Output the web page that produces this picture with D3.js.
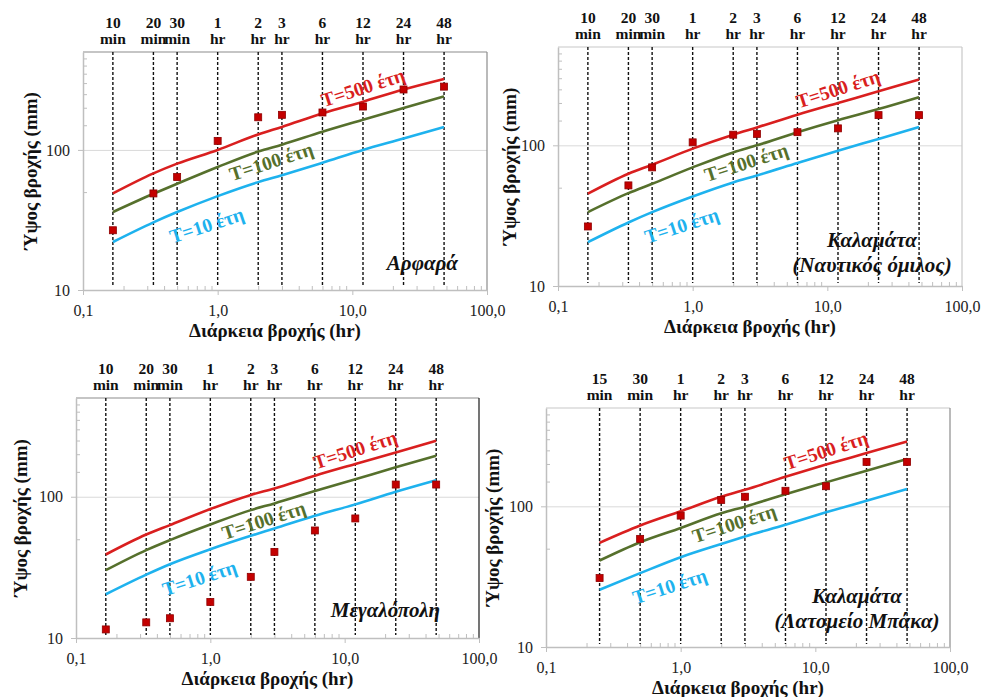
<!DOCTYPE html>
<html>
<head>
<meta charset="utf-8">
<script src="https://cdn.jsdelivr.net/npm/d3@7"></script>
<style>
  body { margin: 0; background: #fff; }
  svg { display: block; font-family: "Liberation Serif", "Times New Roman", serif; }
</style>
</head>
<body>
<div id="chart"></div>
<script>
"use strict";

// durations (hr) and their labels above the plots
let durations = [1 / 6, 1 / 3, 0.5, 1, 2, 3, 6, 12, 24, 48];
let durationLabels = [["10", "min"], ["20", "min"], ["30", "min"], ["1", "hr"], ["2", "hr"],
  ["3", "hr"], ["6", "hr"], ["12", "hr"], ["24", "hr"], ["48", "hr"]];
let durationsBaka = [0.25, 0.5, 1, 2, 3, 6, 12, 24, 48];
let durationLabelsBaka = [["15", "min"], ["30", "min"], ["1", "hr"], ["2", "hr"], ["3", "hr"],
  ["6", "hr"], ["12", "hr"], ["24", "hr"], ["48", "hr"]];

let curveNames = ["T=10 έτη", "T=100 έτη", "T=500 έτη"];

// Αρφαρά
let arfaraT10 = [22, 30.4, 36, 46.8, 58.9, 66, 81, 100, 120.6, 146];
let arfaraT100 = [36, 48.6, 57.3, 75.5, 97.3, 109, 134.7, 164, 199, 241];
let arfaraT500 = [48.9, 68, 79.8, 100, 129, 146, 182, 221, 270, 321];
let arfaraObs = [26.7, 48.9, 64, 116, 171, 178, 185, 204, 270, 283];

// Καλαμάτα (Ναυτικός όμιλος)
let nautT10 = [20.5, 28.3, 33.5, 43.3, 54.5, 61, 74.8, 91.6, 111, 135];
let nautT100 = [33.5, 45.7, 53.3, 69.7, 89, 100, 124, 151, 181, 220];
let nautT500 = [45.3, 62.8, 72.8, 94.7, 119, 134, 165, 200, 242, 294];
let nautObs = [26.5, 51.9, 69.7, 105, 119, 120.5, 124, 132, 164, 164];

// Μεγαλόπολη
let megT10 = [20.4, 28.1, 33.3, 42.5, 52.9, 59.6, 73.3, 88.3, 108.5, 131];
let megT100 = [30.2, 41.9, 49.3, 63.6, 80.4, 89.7, 109.7, 133, 161.5, 195];
let megT500 = [39, 54, 63, 81.8, 103, 114.6, 141, 170.6, 206, 249];
let megObs = [11.5, 12.9, 13.8, 18, 27.1, 40.7, 57.7, 70.2, 122, 122];

// Καλαμάτα (Λατομείο Μπάκα)
let bakaT10 = [25.5, 33.5, 43.5, 54, 61, 74, 90.6, 109.7, 132.7];
let bakaT100 = [41.2, 55.6, 70.2, 89.2, 99.5, 122, 148, 179, 217];
let bakaT500 = [55, 73, 92.2, 117, 131, 162, 198, 239, 289];
let bakaObs = [30.9, 58.7, 85.9, 111, 117, 129, 139, 207, 207];

let xMajor = [0.1, 1, 10, 100];
let xMinor = [];
[0.1, 1, 10].forEach(b => d3.range(2, 10).forEach(k => xMinor.push(b * k)));
let yMajor = [10, 100];
let yMinor = [50, 150, 200, 250, 300, 350, 400, 450];

let colors = ["#1eb2ee", "#56702c", "#d91f1f"];

let panels = [
  { name: ["Αρφαρά"], nameAnchor: "end", nameDx: -29, nameDy: [-20],
    x: [83, 487], y: [290, 52], titleDx: -53, top: "#8c8c8c", right: "#8c8c8c",
    durs: durations, labels: durationLabels, series: [arfaraT10, arfaraT100, arfaraT500], obs: arfaraObs },
  { name: ["Καλαμάτα", "(Ναυτικός όμιλος)"], nameAnchor: "middle", nameDx: -90, nameDy: [-39, -14],
    x: [558, 962], y: [286, 47], titleDx: -49, top: "#c8c8c8", right: "#c8c8c8",
    durs: durations, labels: durationLabels, series: [nautT10, nautT100, nautT500], obs: nautObs },
  { name: ["Μεγαλόπολη"], nameAnchor: "end", nameDx: -39, nameDy: [-21],
    x: [76, 479], y: [638, 398], titleDx: -56, top: "#8c8c8c", right: "#1a1a1a",
    durs: durations, labels: durationLabels, series: [megT10, megT100, megT500], obs: megObs },
  { name: ["Καλαμάτα", "(Λατομείο Μπάκα)"], nameAnchor: "middle", nameDx: -93, nameDy: [-44, -19],
    x: [546, 950], y: [647, 408], titleDx: -54, top: "#c8c8c8", right: "#8c8c8c",
    durs: durationsBaka, labels: durationLabelsBaka, series: [bakaT10, bakaT100, bakaT500], obs: bakaObs }
];

// where the curve labels sit: duration along the curve and vertical offset (px)
let labelAt = [{ t: 0.83, dy: 25 }, { t: 2.5, dy: 14 }, { t: 12, dy: -14 }];

let grLocale = d3.formatLocale({ decimal: ",", thousands: ".", grouping: [3], currency: ["", "€"] });
let fmtX = grLocale.format(".1f");

let svg = d3.select("#chart").append("svg")
  .attr("width", 981)
  .attr("height", 697);

panels.forEach(drawPanel);

function drawPanel(p) {
  let x = d3.scaleLog().domain([0.1, 100]).range(p.x);
  let y = d3.scaleLog().domain([10, 500]).range(p.y);
  let y10 = p.y[0], yTop = p.y[1];
  let g = svg.append("g");

  // gridline at 100
  g.append("g")
    .attr("transform", "translate(" + p.x[0] + ",0)")
    .call(d3.axisLeft(y).tickValues([100]).tickSize(-(p.x[1] - p.x[0])).tickFormat(""))
    .call(s => s.select(".domain").remove())
    .call(s => s.selectAll("line").attr("stroke", "#d9d9d9"));

  // frame top / right
  g.append("line").attr("x1", p.x[0]).attr("x2", p.x[1]).attr("y1", yTop).attr("y2", yTop)
    .attr("stroke", p.top).attr("stroke-width", 1.2);
  g.append("line").attr("x1", p.x[1]).attr("x2", p.x[1]).attr("y1", yTop).attr("y2", y10)
    .attr("stroke", p.right).attr("stroke-width", 1.2);

  // x axis
  g.append("g")
    .attr("transform", "translate(0," + y10 + ")")
    .call(d3.axisBottom(x).tickValues(xMinor).tickSize(-4).tickSizeOuter(0).tickFormat(""))
    .call(s => s.select(".domain").remove())
    .call(s => s.selectAll("line").attr("stroke", "#bfbfbf"));
  let xa = g.append("g")
    .attr("transform", "translate(0," + y10 + ")")
    .call(d3.axisBottom(x).tickValues(xMajor).tickSize(5).tickSizeOuter(0).tickPadding(10).tickFormat(fmtX));
  xa.select(".domain").attr("stroke", "#bfbfbf").attr("stroke-width", 1.5);
  xa.selectAll("line").attr("stroke", "#bfbfbf");
  xa.selectAll("text").attr("font-family", "Liberation Serif").attr("font-size", 16).attr("fill", "#222");

  // y axis
  g.append("g")
    .attr("transform", "translate(" + p.x[0] + ",0)")
    .call(d3.axisLeft(y).tickValues(yMinor).tickSize(-4).tickSizeOuter(0).tickFormat(""))
    .call(s => s.select(".domain").remove())
    .call(s => s.selectAll("line").attr("stroke", "#bfbfbf"));
  let ya = g.append("g")
    .attr("transform", "translate(" + p.x[0] + ",0)")
    .call(d3.axisLeft(y).tickValues(yMajor).tickSize(5).tickSizeOuter(0).tickPadding(8).tickFormat(d3.format("d")));
  ya.select(".domain").attr("stroke", "#bfbfbf").attr("stroke-width", 1.5);
  ya.selectAll("line").attr("stroke", "#bfbfbf");
  ya.selectAll("text").attr("font-family", "Liberation Serif").attr("font-size", 16).attr("fill", "#222");

  // dashed duration lines + labels above
  g.selectAll(".durLine")
    .data(p.durs)
    .enter().append("line")
    .attr("class", "durLine")
    .attr("x1", d => x(d)).attr("x2", d => x(d))
    .attr("y1", yTop).attr("y2", y10 - 3)
    .attr("stroke", "#111")
    .attr("stroke-width", 1.4)
    .attr("stroke-dasharray", "3,2");

  let lab = g.selectAll(".durLabel")
    .data(p.durs)
    .enter().append("text")
    .attr("class", "durLabel")
    .attr("text-anchor", "middle")
    .attr("font-weight", "bold")
    .attr("font-size", 15.5)
    .attr("fill", "#111");
  lab.append("tspan")
    .attr("x", d => x(d)).attr("y", yTop - 24)
    .text((d, i) => p.labels[i][0]);
  lab.append("tspan")
    .attr("x", d => x(d)).attr("y", yTop - 8)
    .text((d, i) => p.labels[i][1]);

  // IDF curves
  let line = d3.line()
    .x(d => x(d[0]))
    .y(d => y(d[1]))
    .curve(d3.curveMonotoneX);

  p.series.forEach((s, k) => {
    let pts = s.map((v, i) => [p.durs[i], v]);
    g.append("path")
      .attr("d", line(pts))
      .attr("fill", "none")
      .attr("stroke", colors[k])
      .attr("stroke-width", 2.6);
  });

  // observed maxima
  g.selectAll(".obs")
    .data(p.obs)
    .enter().append("rect")
    .attr("class", "obs")
    .attr("x", (d, i) => x(p.durs[i]) - 3.5)
    .attr("y", d => y(d) - 3.5)
    .attr("width", 7)
    .attr("height", 7)
    .attr("fill", "#c40000")
    .attr("stroke", "#900000")
    .attr("stroke-width", 0.8);

  // curve labels
  p.series.forEach((s, k) => {
    let lx = x(labelAt[k].t);
    let ly = curveY(s, p.durs, labelAt[k].t, x, y) + labelAt[k].dy;
    g.append("text")
      .attr("transform", "translate(" + lx + "," + ly + ") rotate(-18)")
      .attr("text-anchor", "middle")
      .attr("dominant-baseline", "central")
      .attr("font-weight", "bold")
      .attr("font-size", 19.5)
      .attr("fill", colors[k])
      .text(curveNames[k]);
  });

  // station name
  let nx = p.x[1] + p.nameDx;
  g.selectAll(".station")
    .data(p.name)
    .enter().append("text")
    .attr("class", "station")
    .attr("x", nx)
    .attr("y", (d, i) => y10 + p.nameDy[i])
    .attr("text-anchor", p.nameAnchor)
    .attr("font-weight", "bold")
    .attr("font-style", "italic")
    .attr("font-size", 21)
    .attr("fill", "#111")
    .text(d => d);

  // axis titles
  g.append("text")
    .attr("x", (p.x[0] + p.x[1]) / 2 - 10)
    .attr("y", y10 + 47)
    .attr("text-anchor", "middle")
    .attr("font-weight", "bold")
    .attr("font-size", 19)
    .attr("fill", "#111")
    .text("Διάρκεια βροχής (hr)");

  g.append("text")
    .attr("transform", "translate(" + (p.x[0] + p.titleDx) + "," + ((yTop + y10) / 2) + ") rotate(-90)")
    .attr("text-anchor", "middle")
    .attr("dominant-baseline", "central")
    .attr("font-weight", "bold")
    .attr("font-size", 19)
    .attr("fill", "#111")
    .text("Ύψος βροχής (mm)");
}

// screen y of a curve at duration t (straight between neighbouring points)
function curveY(s, durs, t, x, y) {
  let i = d3.bisectRight(durs, t) - 1;
  i = Math.max(0, Math.min(durs.length - 2, i));
  let x0 = x(durs[i]), x1 = x(durs[i + 1]);
  let f = (x(t) - x0) / (x1 - x0);
  return y(s[i]) + f * (y(s[i + 1]) - y(s[i]));
}
</script>
</body>
</html>
